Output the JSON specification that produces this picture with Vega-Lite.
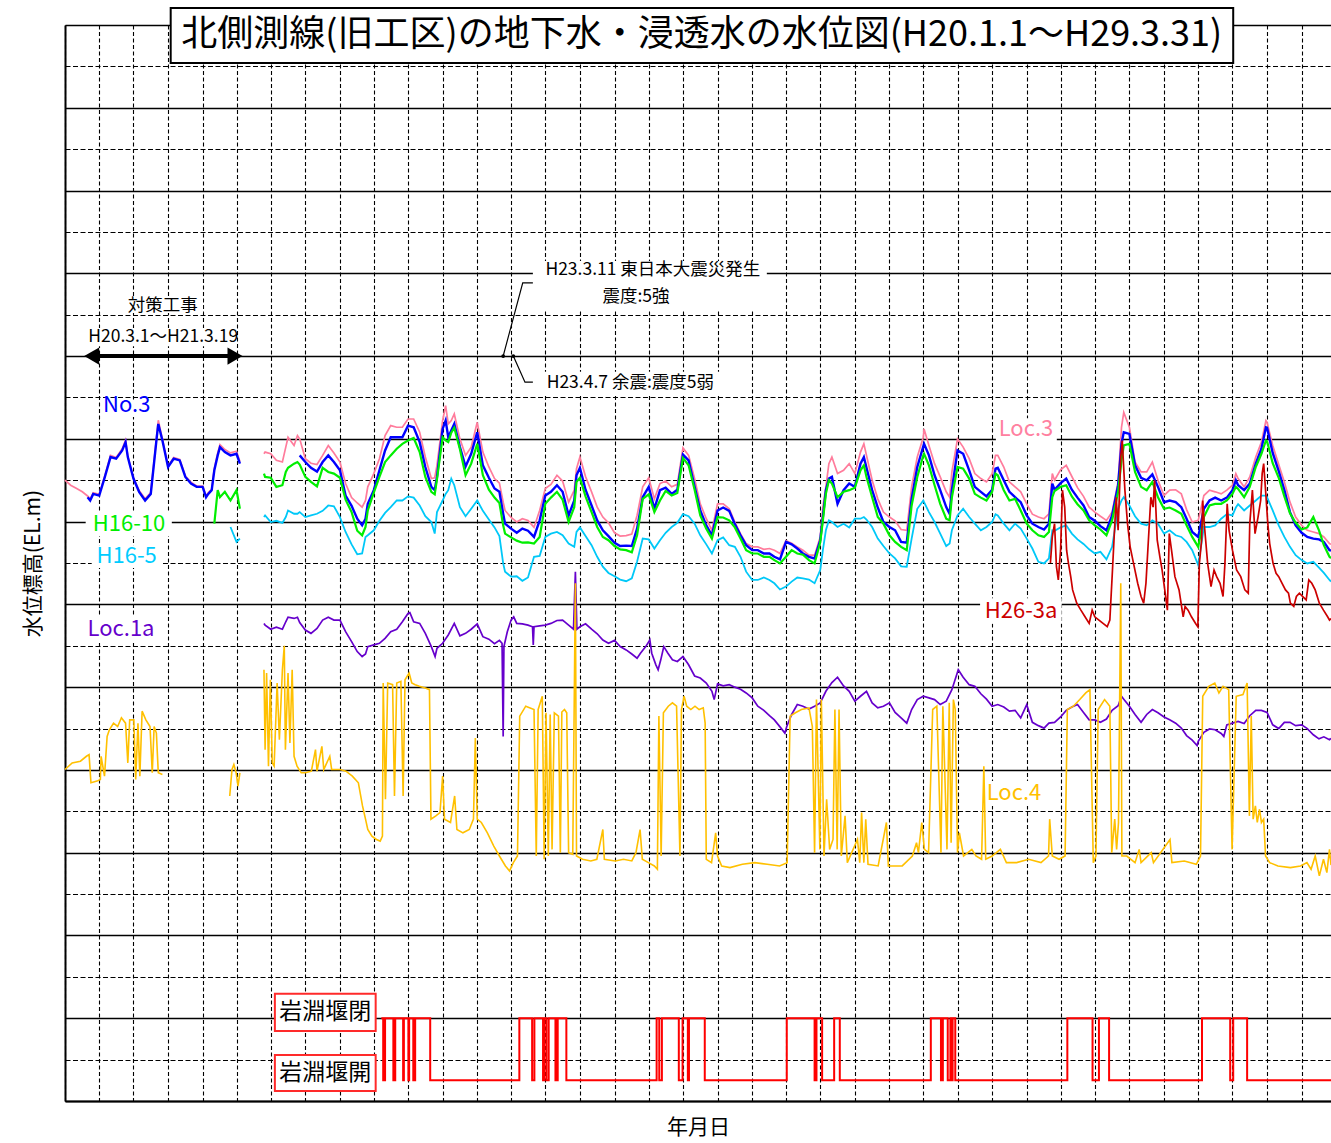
{
"$schema": "https://vega.github.io/schema/vega-lite/v6.json",
"width": 1266, "height": 1076,
"autosize": {"type": "none"},
"padding": {"left": 65, "top": 25, "right": 0, "bottom": 42},
"background": "white",
"config": {"font": "Noto Sans CJK JP", "view": {"stroke": null}},
"datasets": {
"wide": [
{"d":"2008-01-01","L3":15.00},{"d":"2008-01-16","L3":14.88},{"d":"2008-02-01","L3":14.80},{"d":"2008-02-16","L3":14.72},
{"d":"2008-03-01","L3":14.62,"N3":14.59},{"d":"2008-03-08","L3":14.55,"N3":14.51},{"d":"2008-03-16","L3":14.70,"N3":14.67},
{"d":"2008-04-01","L3":14.66,"N3":14.63},{"d":"2008-04-16","L3":15.11,"N3":15.08},{"d":"2008-05-01","L3":15.60,"N3":15.56},
{"d":"2008-05-16","L3":15.55,"N3":15.52},{"d":"2008-06-01","L3":15.76,"N3":15.72},{"d":"2008-06-10","L3":15.97,"N3":15.92},
{"d":"2008-06-16","L3":15.58,"N3":15.56},{"d":"2008-07-01","L3":15.06,"N3":15.04},{"d":"2008-07-16","L3":14.75,"N3":14.72},
{"d":"2008-08-01","L3":14.55,"N3":14.51},{"d":"2008-08-16","L3":14.70,"N3":14.67},{"d":"2008-09-01","L3":16.08,"N3":16.04},
{"d":"2008-09-05","L3":16.45,"N3":16.36},{"d":"2008-09-16","L3":15.99,"N3":15.96},{"d":"2008-10-01","L3":15.34,"N3":15.32},
{"d":"2008-10-16","L3":15.55,"N3":15.52},{"d":"2008-11-01","L3":15.50,"N3":15.48},{"d":"2008-11-16","L3":15.10,"N3":15.08},
{"d":"2008-12-01","L3":14.95,"N3":14.92},{"d":"2008-12-16","L3":14.86,"N3":14.84},{"d":"2009-01-01","L3":14.86,"N3":14.84},
{"d":"2009-01-10","L3":14.62,"N3":14.59},{"d":"2009-01-16","L3":14.70,"N3":14.67},{"d":"2009-01-25","L3":14.78,"N3":14.76},
{"d":"2009-02-01","L3":15.28,"N3":15.24,"H10":13.95},{"d":"2009-02-10","L3":15.66,"N3":15.60,"H10":14.76},
{"d":"2009-02-16","L3":15.86,"N3":15.80,"H10":14.59},{"d":"2009-03-01","L3":15.74,"N3":15.68,"H10":14.72},
{"d":"2009-03-16","L3":15.66,"N3":15.60,"H10":14.51,"H5":13.87},{"d":"2009-04-01","L3":15.70,"N3":15.64,"H10":14.76,"H5":13.51},
{"d":"2009-04-10","L3":15.45,"N3":15.40,"H10":14.31,"H5":13.59},
{"d":"2009-05-01"},
{"d":"2009-06-13","L3":15.64,"H10":15.16,"H5":14.11},{"d":"2009-06-16","L3":15.68,"H10":15.08,"H5":14.15},
{"d":"2009-07-01","L3":15.64,"H10":15.06,"H5":13.99},{"d":"2009-07-16","L3":15.48,"H10":14.84,"H5":14.02},
{"d":"2009-08-01","L3":15.44,"H10":14.88,"H5":13.97},{"d":"2009-08-10","L3":15.80,"H10":15.20,"H5":14.11},
{"d":"2009-08-16","L3":16.04,"H10":15.30,"H5":14.27},{"d":"2009-09-01","L3":15.84,"H10":15.40,"H5":14.19},
{"d":"2009-09-10","L3":16.08,"H10":15.44,"H5":14.19},{"d":"2009-09-16","L3":16.00,"N3":15.60,"H10":15.38,"H5":14.23},
{"d":"2009-10-01","L3":15.52,"N3":15.44,"H10":15.08,"H5":14.11},{"d":"2009-10-16","L3":15.41,"N3":15.30,"H10":14.96,"H5":14.15},
{"d":"2009-11-01","L3":15.38,"N3":15.21,"H10":14.85,"H5":14.19},{"d":"2009-11-16","L3":15.60,"N3":15.44,"H10":15.30,"H5":14.26},
{"d":"2009-12-01","L3":15.84,"N3":15.60,"H10":15.20,"H5":14.39},{"d":"2009-12-16","L3":15.66,"N3":15.44,"H10":15.16,"H5":14.37},
{"d":"2010-01-01","L3":15.44,"N3":15.24,"H10":15.06,"H5":14.11},{"d":"2010-01-16","L3":14.92,"N3":14.63,"H10":14.53,"H5":13.75},
{"d":"2010-02-01","L3":14.58,"N3":14.38,"H10":14.23,"H5":13.45},{"d":"2010-02-16","L3":14.45,"N3":14.07,"H10":13.78,"H5":13.21},
{"d":"2010-03-01","L3":14.35,"N3":13.91,"H10":13.67,"H5":13.23},{"d":"2010-03-10","L3":14.51,"N3":14.07,"H10":13.87,"H5":13.63},
{"d":"2010-03-16","L3":14.84,"N3":14.43,"H10":14.27,"H5":13.67},{"d":"2010-04-01","L3":15.16,"N3":14.76,"H10":14.70,"H5":13.79},
{"d":"2010-04-16","L3":15.52,"N3":15.24,"H10":15.08,"H5":14.02},{"d":"2010-05-01","L3":16.08,"N3":15.72,"H10":15.44,"H5":14.21},
{"d":"2010-05-16","L3":16.32,"N3":16.04,"H10":15.60,"H5":14.35},{"d":"2010-06-01","L3":16.28,"N3":16.04,"H10":15.76,"H5":14.51},
{"d":"2010-06-16","L3":16.28,"N3":16.04,"H10":15.88,"H5":14.51},{"d":"2010-07-01","L3":16.48,"N3":16.32,"H10":15.96,"H5":14.61},
{"d":"2010-07-16","L3":16.48,"N3":16.28,"H10":16.02,"H5":14.58},{"d":"2010-08-01","L3":16.16,"N3":15.92,"H10":15.68,"H5":14.39},
{"d":"2010-08-16","L3":15.56,"N3":15.32,"H10":15.08,"H5":14.13},{"d":"2010-09-01","L3":15.04,"N3":14.84,"H10":14.72,"H5":13.99},
{"d":"2010-09-10","L3":15.06,"N3":14.76,"H10":14.66,"H5":13.71},{"d":"2010-09-16","L3":15.36,"N3":15.08,"H10":15.02,"H5":14.23},
{"d":"2010-10-01","L3":16.44,"N3":16.24,"H10":16.04,"H5":14.51},{"d":"2010-10-09","L3":16.80,"N3":16.44,"H10":15.96,"H5":14.67},
{"d":"2010-10-16","L3":16.36,"N3":16.04,"H10":15.92,"H5":14.76},{"d":"2010-10-24","L3":16.44,"N3":16.20,"H10":16.15,"H5":15.04},
{"d":"2010-11-01","L3":16.60,"N3":16.36,"H10":16.27,"H5":14.88},{"d":"2010-11-16","L3":16.00,"N3":15.80,"H10":15.75,"H5":14.35},
{"d":"2010-12-01","L3":15.60,"N3":15.33,"H10":15.12,"H5":14.13},{"d":"2010-12-16","L3":15.80,"N3":15.64,"H10":15.40,"H5":14.31},
{"d":"2011-01-01","L3":16.40,"N3":16.16,"H10":15.88,"H5":14.51},{"d":"2011-01-16","L3":15.68,"N3":15.36,"H10":15.12,"H5":14.26},
{"d":"2011-02-01","L3":15.32,"N3":15.06,"H10":14.77,"H5":14.05},{"d":"2011-02-16","L3":15.04,"N3":14.80,"H10":14.58,"H5":13.86},
{"d":"2011-03-01","L3":14.93,"N3":14.72,"H10":14.45,"H5":13.65},{"d":"2011-03-11","L3":14.47,"N3":14.19,"H10":13.91,"H5":12.99},
{"d":"2011-03-16","L3":14.27,"N3":13.95,"H10":13.71,"H5":12.79},{"d":"2011-04-01","L3":14.10,"N3":13.83,"H10":13.62,"H5":12.67},
{"d":"2011-04-16","L3":13.99,"N3":13.73,"H10":13.54,"H5":12.68},{"d":"2011-05-01","L3":14.07,"N3":13.83,"H10":13.49,"H5":12.57},
{"d":"2011-05-16","L3":14.03,"N3":13.78,"H10":13.50,"H5":12.65},{"d":"2011-06-01","L3":13.86,"N3":13.63,"H10":13.47,"H5":13.15},
{"d":"2011-06-16","L3":14.27,"N3":14.03,"H10":13.63,"H5":13.17},{"d":"2011-07-01","L3":14.80,"N3":14.63,"H10":14.43,"H5":13.63},
{"d":"2011-07-16","L3":14.90,"N3":14.72,"H10":14.58,"H5":13.71},{"d":"2011-08-01","L3":15.12,"N3":14.88,"H10":14.72,"H5":13.75},
{"d":"2011-08-16","L3":14.98,"N3":14.72,"H10":14.53,"H5":13.67},{"d":"2011-09-01","L3":14.47,"N3":14.15,"H10":13.99,"H5":13.47},
{"d":"2011-09-16","L3":14.76,"N3":14.51,"H10":14.35,"H5":13.39},{"d":"2011-09-22","L3":15.28,"N3":15.12,"H10":14.96,"H5":13.75},
{"d":"2011-10-01","L3":15.56,"N3":15.30,"H10":15.06,"H5":13.86},{"d":"2011-10-16","L3":15.09,"N3":14.77,"H10":14.61,"H5":13.65},
{"d":"2011-11-01","L3":14.72,"N3":14.39,"H10":14.23,"H5":13.43},{"d":"2011-11-16","L3":14.35,"N3":14.03,"H10":13.87,"H5":13.15},
{"d":"2011-12-01","L3":14.11,"N3":13.79,"H10":13.63,"H5":12.91},{"d":"2011-12-16","L3":13.97,"N3":13.65,"H10":13.55,"H5":12.76},
{"d":"2012-01-01","L3":13.73,"N3":13.49,"H10":13.41,"H5":12.68},{"d":"2012-01-16","L3":13.65,"N3":13.41,"H10":13.33,"H5":12.60},
{"d":"2012-02-01","L3":13.66,"N3":13.42,"H10":13.31,"H5":12.56},{"d":"2012-02-16","L3":13.70,"N3":13.41,"H10":13.26,"H5":12.63},
{"d":"2012-03-01","L3":14.15,"N3":13.83,"H10":13.67,"H5":13.03},{"d":"2012-03-16","L3":14.84,"N3":14.59,"H10":14.55,"H5":13.59},
{"d":"2012-04-01","L3":15.06,"N3":14.84,"H10":14.66,"H5":13.57},{"d":"2012-04-16","L3":14.55,"N3":14.31,"H10":14.23,"H5":13.35},
{"d":"2012-05-01","L3":14.92,"N3":14.76,"H10":14.51,"H5":13.55},{"d":"2012-05-16","L3":14.98,"N3":14.82,"H10":14.74,"H5":13.73},
{"d":"2012-06-01","L3":14.84,"N3":14.67,"H10":14.63,"H5":13.87},{"d":"2012-06-16","L3":14.90,"N3":14.77,"H10":14.69,"H5":13.97},
{"d":"2012-07-01","L3":15.78,"N3":15.62,"H10":15.54,"H5":14.18},{"d":"2012-07-16","L3":15.60,"N3":15.48,"H10":15.36,"H5":14.13},
{"d":"2012-08-01","L3":15.04,"N3":14.85,"H10":14.77,"H5":13.95},{"d":"2012-08-16","L3":14.43,"N3":14.27,"H10":14.15,"H5":13.67},
{"d":"2012-09-01","L3":14.07,"N3":13.91,"H10":13.83,"H5":13.45},{"d":"2012-09-16","L3":13.79,"N3":13.67,"H10":13.59,"H5":13.23},
{"d":"2012-10-01","L3":14.43,"N3":14.27,"H10":14.11,"H5":13.55},{"d":"2012-10-16","L3":14.43,"N3":14.34,"H10":14.10,"H5":13.62},
{"d":"2012-11-01","L3":14.31,"N3":14.26,"H10":14.03,"H5":13.43},{"d":"2012-11-16","L3":13.99,"N3":13.94,"H10":13.86,"H5":13.39},
{"d":"2012-12-01","L3":13.71,"N3":13.67,"H10":13.59,"H5":13.15},{"d":"2012-12-16","L3":13.47,"N3":13.43,"H10":13.31,"H5":12.79},
{"d":"2013-01-01","L3":13.39,"N3":13.31,"H10":13.23,"H5":12.59},{"d":"2013-01-16","L3":13.39,"N3":13.31,"H10":13.23,"H5":12.59},
{"d":"2013-02-01","L3":13.33,"N3":13.23,"H10":13.15,"H5":12.65},{"d":"2013-02-16","L3":13.35,"N3":13.23,"H10":13.15,"H5":12.59},
{"d":"2013-03-01","L3":13.31,"N3":13.15,"H10":13.07,"H5":12.51},{"d":"2013-03-16","L3":13.23,"N3":13.09,"H10":12.99,"H5":12.36},
{"d":"2013-04-01","L3":13.54,"N3":13.51,"H10":13.15,"H5":12.43},{"d":"2013-04-16","L3":13.48,"N3":13.45,"H10":13.31,"H5":12.55},
{"d":"2013-05-01","L3":13.39,"N3":13.35,"H10":13.23,"H5":12.65},{"d":"2013-05-16","L3":13.31,"N3":13.23,"H10":13.20,"H5":12.63},
{"d":"2013-06-01","L3":13.19,"N3":13.15,"H10":13.07,"H5":12.60},{"d":"2013-06-16","L3":13.19,"N3":13.11,"H10":12.99,"H5":12.51},
{"d":"2013-07-01","L3":13.63,"N3":13.55,"H10":13.50,"H5":12.83},{"d":"2013-07-08","L3":14.35,"N3":14.11,"H10":14.03,"H5":13.31},
{"d":"2013-07-16","L3":14.84,"N3":14.76,"H10":14.67,"H5":13.79},{"d":"2013-07-24","L3":15.40,"N3":15.04,"H10":15.00,"H5":14.03},
{"d":"2013-08-01","L3":15.56,"N3":15.08,"H10":14.92,"H5":13.99},{"d":"2013-08-16","L3":15.16,"N3":14.43,"H10":14.59,"H5":13.87},
{"d":"2013-09-01","L3":15.24,"N3":14.76,"H10":14.72,"H5":13.95},{"d":"2013-09-16","L3":15.40,"N3":14.92,"H10":14.76,"H5":13.86},
{"d":"2013-10-01","L3":15.16,"N3":14.84,"H10":14.82,"H5":14.07},{"d":"2013-10-16","L3":15.68,"N3":15.40,"H10":15.24,"H5":14.07},
{"d":"2013-10-25","L3":15.88,"N3":15.56,"H10":15.36,"H5":14.11},{"d":"2013-11-01","L3":15.60,"N3":15.30,"H10":15.08,"H5":14.05},
{"d":"2013-11-16","L3":15.00,"N3":14.76,"H10":14.59,"H5":13.87},{"d":"2013-12-01","L3":14.55,"N3":14.34,"H10":14.11,"H5":13.59},
{"d":"2013-12-16","L3":14.23,"N3":13.99,"H10":13.95,"H5":13.41},{"d":"2014-01-01","L3":14.11,"N3":13.87,"H10":13.67,"H5":13.23},
{"d":"2014-01-16","L3":14.02,"N3":13.79,"H10":13.51,"H5":13.11},{"d":"2014-02-01","L3":13.81,"N3":13.51,"H10":13.39,"H5":12.92},
{"d":"2014-02-16","L3":13.79,"N3":13.49,"H10":13.31,"H5":12.91},{"d":"2014-03-01","L3":14.84,"N3":14.55,"H10":14.39,"H5":13.59},
{"d":"2014-03-16","L3":15.56,"N3":15.32,"H10":15.08,"H5":14.31},{"d":"2014-04-01","L3":16.04,"N3":15.82,"H10":15.60,"H5":14.51},
{"d":"2014-04-03","L3":16.24,"N3":15.88,"H10":15.64,"H5":14.47},{"d":"2014-04-16","L3":15.84,"N3":15.60,"H10":15.36,"H5":14.23},
{"d":"2014-05-01","L3":15.40,"N3":15.12,"H10":14.88,"H5":13.99},{"d":"2014-05-16","L3":15.08,"N3":14.76,"H10":14.43,"H5":13.71},
{"d":"2014-06-01","L3":14.72,"N3":14.35,"H10":14.07,"H5":13.41},{"d":"2014-06-10","L3":14.59,"N3":14.19,"H10":14.03,"H5":13.47},
{"d":"2014-06-16","L3":15.20,"N3":14.76,"H10":14.59,"H5":13.79},{"d":"2014-07-01","L3":16.00,"N3":15.72,"H10":15.32,"H5":14.15},
{"d":"2014-07-16","L3":15.80,"N3":15.64,"H10":15.28,"H5":14.31},{"d":"2014-08-01","L3":15.52,"N3":15.24,"H10":15.04,"H5":14.11},
{"d":"2014-08-16","L3":15.16,"N3":14.84,"H10":14.67,"H5":13.95},{"d":"2014-09-01","L3":15.04,"N3":14.72,"H10":14.58,"H5":13.79},
{"d":"2014-09-16","L3":14.96,"N3":14.61,"H10":14.51,"H5":13.87},{"d":"2014-10-01","L3":15.16,"N3":14.77,"H10":14.72,"H5":13.99},
{"d":"2014-10-10","L3":15.60,"N3":15.28,"H10":15.16,"H5":14.18},{"d":"2014-10-16","L3":15.60,"N3":15.30,"H10":15.12,"H5":14.15},
{"d":"2014-11-01","L3":15.32,"N3":15.00,"H10":14.76,"H5":13.95},{"d":"2014-11-16","L3":14.96,"N3":14.72,"H10":14.51,"H5":13.79},
{"d":"2014-12-01","L3":14.84,"N3":14.59,"H10":14.55,"H5":13.95},{"d":"2014-12-16","L3":14.72,"N3":14.47,"H10":14.27,"H5":13.83},
{"d":"2015-01-01","L3":14.43,"N3":14.15,"H10":13.95,"H5":13.59},{"d":"2015-01-16","L3":14.18,"N3":13.95,"H10":13.79,"H5":13.35},
{"d":"2015-02-01","L3":14.11,"N3":13.87,"H10":13.67,"H5":13.03},{"d":"2015-02-16","L3":14.07,"N3":13.81,"H10":13.63,"H5":12.99},
{"d":"2015-03-01","L3":14.19,"N3":13.95,"H10":13.75,"H5":13.11},{"d":"2015-03-10","L3":15.16,"N3":14.92,"H10":14.59,"H5":13.79},
{"d":"2015-03-16","L3":15.00,"N3":14.77,"H10":14.74,"H5":13.78},{"d":"2015-04-01","L3":15.25,"N3":14.93,"H10":14.84,"H5":13.86},
{"d":"2015-04-16","L3":15.36,"N3":15.04,"H10":14.88,"H5":13.91},{"d":"2015-05-01","L3":15.09,"N3":14.77,"H10":14.61,"H5":13.71},
{"d":"2015-05-16","L3":14.82,"N3":14.58,"H10":14.42,"H5":13.57},{"d":"2015-06-01","L3":14.61,"N3":14.39,"H10":14.27,"H5":13.46},
{"d":"2015-06-16","L3":14.35,"N3":14.11,"H10":14.03,"H5":13.33},{"d":"2015-07-01","L3":14.23,"N3":14.02,"H10":13.91,"H5":13.23},
{"d":"2015-07-16","L3":14.13,"N3":13.89,"H10":13.81,"H5":13.27},{"d":"2015-08-01","L3":14.03,"N3":13.79,"H10":13.67,"H5":13.09},
{"d":"2015-08-16","L3":14.23,"N3":14.15,"H10":14.03,"H5":13.39},{"d":"2015-09-01","L3":14.96,"N3":14.88,"H10":14.72,"H5":14.31},
{"d":"2015-09-10","L3":16.28,"N3":15.88,"H10":15.48,"H5":14.51},{"d":"2015-09-16","L3":16.64,"N3":16.16,"H10":15.84,"H5":14.59},
{"d":"2015-10-01","L3":16.28,"N3":16.12,"H10":15.88,"H5":14.39},{"d":"2015-10-16","L3":15.44,"N3":15.36,"H10":15.20,"H5":14.13},
{"d":"2015-11-01","L3":15.20,"N3":15.06,"H10":14.84,"H5":13.95},{"d":"2015-11-16","L3":15.20,"N3":15.00,"H10":14.76,"H5":13.91},
{"d":"2015-12-01","L3":15.44,"N3":15.14,"H10":14.96,"H5":14.03},{"d":"2015-12-16","L3":15.00,"N3":14.84,"H10":14.59,"H5":13.95},
{"d":"2016-01-01","L3":14.63,"N3":14.47,"H10":14.31,"H5":13.71},{"d":"2016-01-16","L3":14.76,"N3":14.51,"H10":14.34,"H5":13.79},
{"d":"2016-02-01","L3":14.77,"N3":14.47,"H10":14.27,"H5":13.67},{"d":"2016-02-16","L3":14.67,"N3":14.35,"H10":14.19,"H5":13.63},
{"d":"2016-03-01","L3":14.29,"N3":14.07,"H10":13.91,"H5":13.51},{"d":"2016-03-16","L3":13.99,"N3":13.75,"H10":13.63,"H5":13.31},
{"d":"2016-04-01","L3":14.03,"N3":13.63,"H10":13.39,"H5":12.95},{"d":"2016-04-16","L3":14.63,"N3":14.31,"H10":14.11,"H5":13.87},
{"d":"2016-05-01","L3":14.76,"N3":14.51,"H10":14.39,"H5":13.87},{"d":"2016-05-16","L3":14.72,"N3":14.58,"H10":14.43,"H5":13.91},
{"d":"2016-06-01","L3":14.67,"N3":14.51,"H10":14.43,"H5":14.07},{"d":"2016-06-16","L3":14.76,"N3":14.58,"H10":14.51,"H5":14.18},
{"d":"2016-07-01","L3":14.88,"N3":14.76,"H10":14.67,"H5":14.15},{"d":"2016-07-10","L3":15.16,"N3":15.00,"H10":14.84,"H5":14.34},
{"d":"2016-07-16","L3":15.04,"N3":14.88,"H10":14.79,"H5":14.42},{"d":"2016-08-01","L3":14.84,"N3":14.76,"H10":14.59,"H5":14.27},
{"d":"2016-08-16","L3":15.08,"N3":14.92,"H10":14.84,"H5":14.39},{"d":"2016-09-01","L3":15.56,"N3":15.40,"H10":15.32,"H5":14.51},
{"d":"2016-09-16","L3":15.92,"N3":15.76,"H10":15.64,"H5":14.63},{"d":"2016-09-28","L3":16.44,"N3":16.28,"H10":15.96,"H5":14.63},
{"d":"2016-10-01","L3":16.40,"N3":16.27,"H10":15.94,"H5":14.59},{"d":"2016-10-16","L3":15.84,"N3":15.66,"H10":15.41,"H5":14.27},
{"d":"2016-11-01","L3":15.38,"N3":15.22,"H10":15.06,"H5":13.91},{"d":"2016-11-16","L3":14.96,"N3":14.76,"H10":14.61,"H5":13.63},
{"d":"2016-12-01","L3":14.47,"N3":14.23,"H10":14.20,"H5":13.39},{"d":"2016-12-16","L3":14.11,"N3":13.91,"H10":13.97,"H5":13.19},
{"d":"2017-01-01","L3":13.91,"N3":13.73,"H10":13.81,"H5":13.07},{"d":"2017-01-16","L3":13.79,"N3":13.63,"H10":13.86,"H5":12.99},
{"d":"2017-02-01","L3":13.75,"N3":13.59,"H10":14.11,"H5":13.03},{"d":"2017-02-16","L3":13.71,"N3":13.57,"H10":13.79,"H5":12.89},
{"d":"2017-03-01","L3":13.63,"N3":13.51,"H10":13.43,"H5":12.76},{"d":"2017-03-16","L3":13.47,"N3":13.31,"H10":13.15,"H5":12.59},
{"d":"2017-03-20","L3":13.45,"N3":13.30,"H10":13.12,"H5":12.55}
],
"purple": [
{"d":"2009-06-13","v":11.54},{"d":"2009-06-16","v":11.50},{"d":"2009-07-01","v":11.40},{"d":"2009-07-16","v":11.45},{"d":"2009-08-01","v":11.40},
{"d":"2009-08-10","v":11.58},{"d":"2009-08-16","v":11.69},{"d":"2009-09-01","v":11.66},{"d":"2009-09-10","v":11.69},{"d":"2009-09-16","v":11.56},
{"d":"2009-10-01","v":11.38},{"d":"2009-10-16","v":11.30},{"d":"2009-11-01","v":11.42},{"d":"2009-11-16","v":11.62},{"d":"2009-12-01","v":11.69},
{"d":"2009-12-16","v":11.62},{"d":"2010-01-01","v":11.62},{"d":"2010-01-16","v":11.34},{"d":"2010-02-01","v":11.10},{"d":"2010-02-16","v":10.86},
{"d":"2010-03-01","v":10.74},{"d":"2010-03-10","v":10.80},{"d":"2010-03-16","v":10.98},{"d":"2010-04-01","v":11.02},{"d":"2010-04-16","v":11.06},
{"d":"2010-05-01","v":11.18},{"d":"2010-05-16","v":11.34},{"d":"2010-06-01","v":11.40},{"d":"2010-06-16","v":11.58},{"d":"2010-07-01","v":11.78},
{"d":"2010-07-06","v":11.80},{"d":"2010-07-16","v":11.58},{"d":"2010-08-01","v":11.54},{"d":"2010-08-16","v":11.30},{"d":"2010-09-01","v":10.98},
{"d":"2010-09-11","v":10.74},{"d":"2010-09-16","v":10.94},{"d":"2010-10-01","v":11.06},{"d":"2010-10-16","v":11.26},{"d":"2010-11-01","v":11.54},
{"d":"2010-11-16","v":11.24},{"d":"2010-12-01","v":11.30},{"d":"2010-12-16","v":11.40},{"d":"2011-01-01","v":11.53},{"d":"2011-01-16","v":11.22},
{"d":"2011-02-01","v":11.16},{"d":"2011-02-16","v":11.05},{"d":"2011-03-01","v":11.13},{"d":"2011-03-08","v":11.06},{"d":"2011-03-11","v":8.81},
{"d":"2011-03-13","v":10.98},{"d":"2011-03-22","v":11.34},{"d":"2011-04-01","v":11.62},{"d":"2011-04-08","v":11.70},{"d":"2011-04-16","v":11.54},
{"d":"2011-05-01","v":11.53},{"d":"2011-05-16","v":11.50},{"d":"2011-05-28","v":11.46},{"d":"2011-05-30","v":11.02},{"d":"2011-06-01","v":11.46},
{"d":"2011-06-16","v":11.48},{"d":"2011-07-01","v":11.50},{"d":"2011-07-16","v":11.54},{"d":"2011-08-01","v":11.61},{"d":"2011-08-16","v":11.62},
{"d":"2011-09-01","v":11.50},{"d":"2011-09-14","v":11.40},{"d":"2011-09-19","v":12.79},{"d":"2011-09-23","v":11.40},{"d":"2011-10-01","v":11.46},
{"d":"2011-10-16","v":11.53},{"d":"2011-11-01","v":11.40},{"d":"2011-11-16","v":11.29},{"d":"2011-12-01","v":11.14},{"d":"2011-12-16","v":11.06},
{"d":"2012-01-01","v":11.13},{"d":"2012-01-16","v":10.98},{"d":"2012-02-01","v":10.90},{"d":"2012-02-16","v":10.80},{"d":"2012-03-01","v":10.70},
{"d":"2012-03-10","v":10.82},{"d":"2012-03-24","v":10.98},{"d":"2012-04-04","v":11.14},{"d":"2012-04-09","v":10.82},{"d":"2012-04-20","v":10.54},
{"d":"2012-04-26","v":10.42},{"d":"2012-05-03","v":10.66},{"d":"2012-05-11","v":10.98},{"d":"2012-05-22","v":10.82},{"d":"2012-06-03","v":10.66},
{"d":"2012-06-16","v":10.62},{"d":"2012-07-01","v":10.74},{"d":"2012-07-16","v":10.54},{"d":"2012-08-01","v":10.27},{"d":"2012-08-16","v":10.22},
{"d":"2012-09-01","v":10.10},{"d":"2012-09-16","v":9.90},{"d":"2012-09-22","v":9.70},{"d":"2012-10-01","v":10.08},{"d":"2012-10-16","v":10.03},
{"d":"2012-11-01","v":10.06},{"d":"2012-11-16","v":10.00},{"d":"2012-12-01","v":9.95},{"d":"2012-12-16","v":9.86},{"d":"2013-01-01","v":9.74},
{"d":"2013-01-16","v":9.54},{"d":"2013-02-01","v":9.44},{"d":"2013-02-16","v":9.31},{"d":"2013-03-01","v":9.21},{"d":"2013-03-16","v":9.04},
{"d":"2013-03-29","v":8.89},{"d":"2013-04-03","v":9.05},{"d":"2013-04-16","v":9.34},{"d":"2013-05-01","v":9.58},{"d":"2013-05-16","v":9.54},
{"d":"2013-06-01","v":9.47},{"d":"2013-06-16","v":9.54},{"d":"2013-07-01","v":9.62},{"d":"2013-07-16","v":9.90},{"d":"2013-08-01","v":10.11},
{"d":"2013-08-16","v":10.24},{"d":"2013-09-01","v":10.03},{"d":"2013-09-16","v":9.90},{"d":"2013-10-01","v":9.66},{"d":"2013-10-16","v":9.78},
{"d":"2013-11-01","v":9.90},{"d":"2013-11-16","v":9.62},{"d":"2013-12-01","v":9.50},{"d":"2013-12-16","v":9.54},{"d":"2014-01-01","v":9.62},
{"d":"2014-01-16","v":9.39},{"d":"2014-02-01","v":9.26},{"d":"2014-02-16","v":9.13},{"d":"2014-03-01","v":9.46},{"d":"2014-03-16","v":9.70},
{"d":"2014-04-01","v":9.78},{"d":"2014-04-16","v":9.74},{"d":"2014-05-01","v":9.70},{"d":"2014-05-16","v":9.58},{"d":"2014-06-01","v":9.66},
{"d":"2014-06-16","v":9.94},{"d":"2014-07-03","v":10.42},{"d":"2014-07-16","v":10.24},{"d":"2014-08-01","v":10.06},{"d":"2014-08-16","v":10.02},
{"d":"2014-09-01","v":9.84},{"d":"2014-09-16","v":9.71},{"d":"2014-10-01","v":9.54},{"d":"2014-10-16","v":9.58},{"d":"2014-11-01","v":9.52},
{"d":"2014-11-16","v":9.42},{"d":"2014-12-01","v":9.44},{"d":"2014-12-16","v":9.26},{"d":"2015-01-01","v":9.58},{"d":"2015-01-16","v":9.15},
{"d":"2015-02-01","v":9.07},{"d":"2015-02-16","v":9.01},{"d":"2015-03-01","v":9.13},{"d":"2015-03-16","v":9.15},{"d":"2015-04-01","v":9.28},
{"d":"2015-04-16","v":9.44},{"d":"2015-05-01","v":9.52},{"d":"2015-05-16","v":9.58},{"d":"2015-06-01","v":9.39},{"d":"2015-06-16","v":9.21},
{"d":"2015-07-01","v":9.21},{"d":"2015-07-16","v":9.15},{"d":"2015-08-01","v":9.23},{"d":"2015-08-16","v":9.44},{"d":"2015-09-01","v":9.55},
{"d":"2015-09-10","v":9.78},{"d":"2015-09-16","v":9.71},{"d":"2015-10-01","v":9.54},{"d":"2015-10-16","v":9.34},{"d":"2015-11-01","v":9.15},
{"d":"2015-11-16","v":9.34},{"d":"2015-12-01","v":9.46},{"d":"2015-12-16","v":9.38},{"d":"2016-01-01","v":9.28},{"d":"2016-01-16","v":9.21},
{"d":"2016-02-01","v":9.13},{"d":"2016-02-16","v":9.01},{"d":"2016-03-01","v":8.83},{"d":"2016-03-16","v":8.72},{"d":"2016-03-29","v":8.59},
{"d":"2016-04-01","v":8.69},{"d":"2016-04-16","v":8.91},{"d":"2016-05-01","v":8.99},{"d":"2016-05-16","v":8.97},{"d":"2016-06-01","v":8.88},
{"d":"2016-06-08","v":8.81},{"d":"2016-06-16","v":9.09},{"d":"2016-07-01","v":9.13},{"d":"2016-07-16","v":9.17},{"d":"2016-08-01","v":9.12},
{"d":"2016-08-16","v":9.31},{"d":"2016-09-01","v":9.44},{"d":"2016-09-16","v":9.44},{"d":"2016-10-01","v":9.39},{"d":"2016-10-16","v":9.09},
{"d":"2016-11-01","v":9.00},{"d":"2016-11-16","v":9.15},{"d":"2016-12-01","v":9.15},{"d":"2016-12-16","v":9.07},{"d":"2017-01-01","v":9.09},
{"d":"2017-01-16","v":9.00},{"d":"2017-02-01","v":8.85},{"d":"2017-02-16","v":8.75},{"d":"2017-03-01","v":8.80},{"d":"2017-03-16","v":8.73},
{"d":"2017-03-20","v":8.76}
],
"yellow": [
{"g":1,"d":"2008-01-01","v":8.01},{"g":1,"d":"2008-01-20","v":8.17},{"g":1,"d":"2008-02-11","v":8.21},{"g":1,"d":"2008-02-27","v":8.33},
{"g":1,"d":"2008-03-05","v":8.37},{"g":1,"d":"2008-03-10","v":7.69},{"g":1,"d":"2008-03-26","v":7.73},{"g":1,"d":"2008-04-04","v":7.77},
{"g":1,"d":"2008-04-06","v":8.33},{"g":1,"d":"2008-04-15","v":7.85},{"g":1,"d":"2008-04-22","v":8.81},{"g":1,"d":"2008-04-28","v":8.97},
{"g":1,"d":"2008-05-09","v":9.13},{"g":1,"d":"2008-05-20","v":9.05},{"g":1,"d":"2008-05-30","v":9.26},{"g":1,"d":"2008-06-10","v":9.13},
{"g":1,"d":"2008-06-16","v":8.17},{"g":1,"d":"2008-06-21","v":9.21},{"g":1,"d":"2008-07-02","v":9.21},{"g":1,"d":"2008-07-07","v":7.77},
{"g":1,"d":"2008-07-13","v":9.13},{"g":1,"d":"2008-07-18","v":7.85},{"g":1,"d":"2008-07-24","v":9.42},{"g":1,"d":"2008-08-03","v":9.21},
{"g":1,"d":"2008-08-14","v":9.05},{"g":1,"d":"2008-08-20","v":7.93},{"g":1,"d":"2008-08-25","v":9.05},{"g":1,"d":"2008-08-31","v":8.89},
{"g":1,"d":"2008-09-05","v":7.93},{"g":1,"d":"2008-09-16","v":7.89},
{"g":2,"d":"2009-03-14","v":7.37},{"g":2,"d":"2009-03-20","v":8.01},{"g":2,"d":"2009-03-25","v":8.13},{"g":2,"d":"2009-03-31","v":7.93},
{"g":2,"d":"2009-04-05","v":7.61},{"g":2,"d":"2009-04-10","v":7.93},
{"g":3,"d":"2009-06-13","v":10.42},{"g":3,"d":"2009-06-16","v":8.49},{"g":3,"d":"2009-06-20","v":10.34},{"g":3,"d":"2009-06-25","v":8.09},
{"g":3,"d":"2009-06-30","v":10.18},{"g":3,"d":"2009-07-05","v":8.17},{"g":3,"d":"2009-07-10","v":8.09},{"g":3,"d":"2009-07-18","v":10.10},
{"g":3,"d":"2009-07-24","v":8.73},{"g":3,"d":"2009-08-01","v":10.42},{"g":3,"d":"2009-08-06","v":11.00},{"g":3,"d":"2009-08-09","v":8.49},
{"g":3,"d":"2009-08-16","v":10.34},{"g":3,"d":"2009-08-21","v":8.65},{"g":3,"d":"2009-08-27","v":10.42},{"g":3,"d":"2009-09-01","v":8.33},
{"g":3,"d":"2009-09-09","v":8.09},{"g":3,"d":"2009-09-20","v":7.93},{"g":3,"d":"2009-10-01","v":7.93},{"g":3,"d":"2009-10-17","v":7.97},
{"g":3,"d":"2009-10-28","v":8.49},{"g":3,"d":"2009-11-01","v":7.97},{"g":3,"d":"2009-11-14","v":8.57},{"g":3,"d":"2009-11-19","v":8.01},
{"g":3,"d":"2009-12-05","v":8.33},{"g":3,"d":"2009-12-10","v":8.01},{"g":3,"d":"2010-01-01","v":8.01},{"g":3,"d":"2010-01-17","v":7.97},
{"g":3,"d":"2010-02-03","v":7.85},{"g":3,"d":"2010-02-19","v":7.69},{"g":3,"d":"2010-03-02","v":7.13},{"g":3,"d":"2010-03-10","v":6.81},
{"g":3,"d":"2010-03-16","v":6.56},{"g":3,"d":"2010-03-27","v":6.40},{"g":3,"d":"2010-04-08","v":6.32},{"g":3,"d":"2010-04-18","v":6.28},
{"g":3,"d":"2010-04-24","v":6.40},{"g":3,"d":"2010-04-26","v":10.10},{"g":3,"d":"2010-05-02","v":7.29},{"g":3,"d":"2010-05-08","v":10.10},
{"g":3,"d":"2010-05-21","v":10.06},{"g":3,"d":"2010-05-26","v":7.37},{"g":3,"d":"2010-06-01","v":10.10},{"g":3,"d":"2010-06-12","v":10.14},
{"g":3,"d":"2010-06-18","v":7.37},{"g":3,"d":"2010-06-23","v":10.18},{"g":3,"d":"2010-07-04","v":10.34},{"g":3,"d":"2010-07-11","v":10.10},
{"g":3,"d":"2010-07-20","v":10.06},{"g":3,"d":"2010-07-31","v":10.02},{"g":3,"d":"2010-08-16","v":9.98},{"g":3,"d":"2010-08-27","v":9.94},
{"g":3,"d":"2010-08-31","v":6.81},{"g":3,"d":"2010-09-13","v":6.89},{"g":3,"d":"2010-09-24","v":6.97},{"g":3,"d":"2010-10-01","v":7.85},
{"g":3,"d":"2010-10-06","v":6.81},{"g":3,"d":"2010-10-22","v":6.73},{"g":3,"d":"2010-11-02","v":7.37},{"g":3,"d":"2010-11-08","v":6.56},
{"g":3,"d":"2010-11-24","v":6.48},{"g":3,"d":"2010-12-11","v":6.56},{"g":3,"d":"2010-12-22","v":6.81},{"g":3,"d":"2010-12-27","v":8.77},
{"g":3,"d":"2011-01-01","v":6.81},{"g":3,"d":"2011-01-12","v":6.73},{"g":3,"d":"2011-01-28","v":6.48},{"g":3,"d":"2011-02-14","v":6.16},
{"g":3,"d":"2011-03-01","v":5.92},{"g":3,"d":"2011-03-17","v":5.68},{"g":3,"d":"2011-03-28","v":5.56},{"g":3,"d":"2011-04-07","v":5.76},
{"g":3,"d":"2011-04-18","v":5.92},{"g":3,"d":"2011-04-24","v":9.30},{"g":3,"d":"2011-05-10","v":9.54},{"g":3,"d":"2011-06-01","v":9.46},
{"g":3,"d":"2011-06-07","v":5.92},{"g":3,"d":"2011-06-12","v":9.46},{"g":3,"d":"2011-06-23","v":9.78},{"g":3,"d":"2011-06-28","v":5.84},
{"g":3,"d":"2011-07-03","v":9.38},{"g":3,"d":"2011-07-09","v":5.92},{"g":3,"d":"2011-07-14","v":9.34},{"g":3,"d":"2011-07-19","v":6.08},
{"g":3,"d":"2011-07-25","v":9.38},{"g":3,"d":"2011-08-05","v":9.30},{"g":3,"d":"2011-08-10","v":6.00},{"g":3,"d":"2011-08-14","v":9.40},
{"g":3,"d":"2011-08-21","v":9.46},{"g":3,"d":"2011-08-27","v":9.38},{"g":3,"d":"2011-09-01","v":6.00},{"g":3,"d":"2011-09-12","v":5.96},
{"g":3,"d":"2011-09-19","v":12.51},{"g":3,"d":"2011-09-22","v":5.92},{"g":3,"d":"2011-10-08","v":5.84},{"g":3,"d":"2011-10-30","v":5.80},
{"g":3,"d":"2011-11-15","v":5.84},{"g":3,"d":"2011-12-01","v":6.56},{"g":3,"d":"2011-12-05","v":5.84},{"g":3,"d":"2012-01-03","v":5.80},
{"g":3,"d":"2012-01-25","v":5.84},{"g":3,"d":"2012-02-16","v":5.80},{"g":3,"d":"2012-02-27","v":6.00},{"g":3,"d":"2012-03-09","v":6.56},
{"g":3,"d":"2012-03-15","v":5.84},{"g":3,"d":"2012-03-31","v":5.76},{"g":3,"d":"2012-04-16","v":5.68},{"g":3,"d":"2012-04-24","v":5.60},
{"g":3,"d":"2012-04-28","v":9.30},{"g":3,"d":"2012-05-04","v":5.92},{"g":3,"d":"2012-05-10","v":9.38},{"g":3,"d":"2012-05-23","v":9.54},
{"g":3,"d":"2012-06-03","v":9.62},{"g":3,"d":"2012-06-14","v":9.54},{"g":3,"d":"2012-06-23","v":5.92},{"g":3,"d":"2012-06-27","v":9.46},
{"g":3,"d":"2012-07-04","v":9.78},{"g":3,"d":"2012-07-11","v":9.54},{"g":3,"d":"2012-07-22","v":9.46},{"g":3,"d":"2012-08-02","v":9.54},
{"g":3,"d":"2012-08-13","v":9.46},{"g":3,"d":"2012-08-24","v":9.50},{"g":3,"d":"2012-08-29","v":9.13},{"g":3,"d":"2012-09-01","v":5.84},
{"g":3,"d":"2012-09-15","v":5.76},{"g":3,"d":"2012-09-26","v":6.48},{"g":3,"d":"2012-10-01","v":5.92},{"g":3,"d":"2012-10-12","v":5.68},
{"g":3,"d":"2012-11-03","v":5.64},{"g":3,"d":"2012-12-06","v":5.72},{"g":3,"d":"2013-01-08","v":5.76},{"g":3,"d":"2013-02-10","v":5.72},
{"g":3,"d":"2013-03-15","v":5.68},{"g":3,"d":"2013-04-04","v":5.76},{"g":3,"d":"2013-04-12","v":9.30},{"g":3,"d":"2013-04-26","v":9.38},
{"g":3,"d":"2013-05-12","v":9.46},{"g":3,"d":"2013-06-01","v":9.50},{"g":3,"d":"2013-06-10","v":9.05},{"g":3,"d":"2013-06-16","v":6.00},
{"g":3,"d":"2013-06-21","v":9.70},{"g":3,"d":"2013-06-30","v":6.08},{"g":3,"d":"2013-07-04","v":9.70},{"g":3,"d":"2013-07-11","v":5.92},
{"g":3,"d":"2013-07-18","v":7.29},{"g":3,"d":"2013-07-26","v":6.08},{"g":3,"d":"2013-08-04","v":6.32},{"g":3,"d":"2013-08-09","v":9.46},
{"g":3,"d":"2013-08-15","v":6.08},{"g":3,"d":"2013-08-20","v":9.46},{"g":3,"d":"2013-08-26","v":5.92},{"g":3,"d":"2013-09-05","v":6.89},
{"g":3,"d":"2013-09-11","v":5.76},{"g":3,"d":"2013-10-08","v":6.32},{"g":3,"d":"2013-10-14","v":5.76},{"g":3,"d":"2013-10-19","v":6.97},
{"g":3,"d":"2013-10-25","v":5.76},{"g":3,"d":"2013-10-30","v":6.81},{"g":3,"d":"2013-11-05","v":5.72},{"g":3,"d":"2013-12-02","v":5.68},
{"g":3,"d":"2013-12-24","v":6.73},{"g":3,"d":"2013-12-29","v":5.68},{"g":3,"d":"2014-02-04","v":5.68},{"g":3,"d":"2014-03-03","v":5.92},
{"g":3,"d":"2014-03-14","v":6.24},{"g":3,"d":"2014-03-19","v":6.00},{"g":3,"d":"2014-03-28","v":6.73},{"g":3,"d":"2014-04-04","v":6.08},
{"g":3,"d":"2014-04-15","v":6.00},{"g":3,"d":"2014-04-26","v":9.46},{"g":3,"d":"2014-05-07","v":9.54},{"g":3,"d":"2014-05-18","v":6.00},
{"g":3,"d":"2014-05-23","v":9.54},{"g":3,"d":"2014-06-03","v":6.08},{"g":3,"d":"2014-06-09","v":9.62},{"g":3,"d":"2014-06-14","v":6.24},
{"g":3,"d":"2014-06-20","v":9.70},{"g":3,"d":"2014-06-25","v":9.46},{"g":3,"d":"2014-07-01","v":6.00},{"g":3,"d":"2014-07-06","v":6.48},
{"g":3,"d":"2014-07-17","v":5.92},{"g":3,"d":"2014-08-08","v":6.08},{"g":3,"d":"2014-08-19","v":5.92},{"g":3,"d":"2014-09-03","v":5.84},
{"g":3,"d":"2014-09-09","v":8.09},{"g":3,"d":"2014-09-14","v":5.84},{"g":3,"d":"2014-10-01","v":5.92},{"g":3,"d":"2014-10-23","v":6.08},
{"g":3,"d":"2014-11-08","v":5.76},{"g":3,"d":"2014-12-05","v":5.76},{"g":3,"d":"2015-01-06","v":5.84},{"g":3,"d":"2015-02-08","v":5.76},
{"g":3,"d":"2015-02-28","v":5.92},{"g":3,"d":"2015-03-03","v":6.81},{"g":3,"d":"2015-03-10","v":5.92},{"g":3,"d":"2015-03-28","v":5.84},
{"g":3,"d":"2015-04-13","v":5.92},{"g":3,"d":"2015-04-19","v":9.46},{"g":3,"d":"2015-05-05","v":9.54},{"g":3,"d":"2015-05-22","v":9.70},
{"g":3,"d":"2015-06-07","v":9.86},{"g":3,"d":"2015-06-18","v":9.94},{"g":3,"d":"2015-06-27","v":5.76},{"g":3,"d":"2015-07-04","v":5.92},
{"g":3,"d":"2015-07-10","v":9.46},{"g":3,"d":"2015-07-27","v":9.70},{"g":3,"d":"2015-08-10","v":9.54},{"g":3,"d":"2015-08-15","v":6.00},
{"g":3,"d":"2015-08-23","v":6.81},{"g":3,"d":"2015-08-28","v":6.08},{"g":3,"d":"2015-09-02","v":6.73},{"g":3,"d":"2015-09-08","v":12.51},
{"g":3,"d":"2015-09-11","v":5.92},{"g":3,"d":"2015-09-24","v":5.92},{"g":3,"d":"2015-10-16","v":5.76},{"g":3,"d":"2015-10-27","v":6.08},
{"g":3,"d":"2015-11-01","v":5.76},{"g":3,"d":"2015-11-28","v":6.00},{"g":3,"d":"2015-12-04","v":5.76},{"g":3,"d":"2016-01-17","v":6.32},
{"g":3,"d":"2016-01-22","v":5.76},{"g":3,"d":"2016-02-24","v":5.80},{"g":3,"d":"2016-03-27","v":5.72},{"g":3,"d":"2016-04-07","v":5.92},
{"g":3,"d":"2016-04-13","v":9.78},{"g":3,"d":"2016-04-29","v":10.02},{"g":3,"d":"2016-05-15","v":10.10},{"g":3,"d":"2016-05-26","v":9.86},
{"g":3,"d":"2016-06-06","v":10.02},{"g":3,"d":"2016-06-21","v":9.94},{"g":3,"d":"2016-06-30","v":6.08},{"g":3,"d":"2016-07-11","v":9.78},
{"g":3,"d":"2016-07-29","v":9.82},{"g":3,"d":"2016-08-09","v":10.10},{"g":3,"d":"2016-08-15","v":6.89},{"g":3,"d":"2016-08-20","v":9.30},
{"g":3,"d":"2016-08-25","v":6.81},{"g":3,"d":"2016-08-31","v":7.13},{"g":3,"d":"2016-09-05","v":6.73},{"g":3,"d":"2016-09-11","v":7.05},
{"g":3,"d":"2016-09-16","v":6.73},{"g":3,"d":"2016-09-22","v":6.81},{"g":3,"d":"2016-09-27","v":5.92},{"g":3,"d":"2016-10-08","v":5.76},
{"g":3,"d":"2016-10-30","v":5.68},{"g":3,"d":"2016-12-02","v":5.64},{"g":3,"d":"2016-12-29","v":5.68},{"g":3,"d":"2017-01-15","v":5.76},
{"g":3,"d":"2017-01-26","v":5.60},{"g":3,"d":"2017-02-06","v":5.92},{"g":3,"d":"2017-02-17","v":5.44},{"g":3,"d":"2017-02-28","v":5.84},
{"g":3,"d":"2017-03-09","v":5.52},{"g":3,"d":"2017-03-16","v":6.08},{"g":3,"d":"2017-03-20","v":5.70}
],
"red": [
{"d":"2015-03-05","v":13.00},{"d":"2015-03-10","v":13.63},{"d":"2015-03-16","v":13.95},{"d":"2015-03-21","v":12.91},{"d":"2015-03-26","v":12.59},
{"d":"2015-04-01","v":13.31},{"d":"2015-04-06","v":14.76},{"d":"2015-04-12","v":14.35},{"d":"2015-04-17","v":13.31},{"d":"2015-04-22","v":12.99},
{"d":"2015-04-28","v":12.67},{"d":"2015-05-03","v":12.35},{"d":"2015-05-14","v":12.03},{"d":"2015-05-25","v":11.86},{"d":"2015-06-05","v":11.70},
{"d":"2015-06-16","v":11.54},{"d":"2015-06-24","v":11.86},{"d":"2015-07-01","v":11.70},{"d":"2015-07-12","v":11.62},{"d":"2015-07-23","v":11.54},
{"d":"2015-08-03","v":11.46},{"d":"2015-08-10","v":11.62},{"d":"2015-08-17","v":12.83},{"d":"2015-08-21","v":13.55},{"d":"2015-08-27","v":14.59},
{"d":"2015-09-01","v":13.79},{"d":"2015-09-08","v":15.56},{"d":"2015-09-12","v":15.96},{"d":"2015-09-19","v":14.76},{"d":"2015-09-26","v":13.95},
{"d":"2015-10-03","v":13.39},{"d":"2015-10-12","v":12.99},{"d":"2015-10-23","v":12.51},{"d":"2015-11-01","v":12.19},{"d":"2015-11-08","v":12.03},
{"d":"2015-11-14","v":12.51},{"d":"2015-11-22","v":13.79},{"d":"2015-11-27","v":14.59},{"d":"2015-12-03","v":14.35},{"d":"2015-12-07","v":15.00},
{"d":"2015-12-14","v":13.55},{"d":"2015-12-21","v":13.15},{"d":"2015-12-27","v":12.83},{"d":"2016-01-03","v":12.35},{"d":"2016-01-10","v":11.86},
{"d":"2016-01-15","v":13.71},{"d":"2016-01-21","v":13.31},{"d":"2016-01-30","v":12.67},{"d":"2016-02-10","v":12.35},{"d":"2016-02-21","v":11.70},
{"d":"2016-02-26","v":11.95},{"d":"2016-03-05","v":11.86},{"d":"2016-03-14","v":11.70},{"d":"2016-03-25","v":11.54},{"d":"2016-03-31","v":11.46},
{"d":"2016-04-04","v":12.99},{"d":"2016-04-10","v":13.55},{"d":"2016-04-13","v":14.51},{"d":"2016-04-17","v":13.95},{"d":"2016-04-26","v":12.99},
{"d":"2016-05-05","v":12.43},{"d":"2016-05-13","v":12.83},{"d":"2016-05-20","v":12.67},{"d":"2016-05-29","v":12.51},{"d":"2016-06-06","v":12.19},
{"d":"2016-06-11","v":12.99},{"d":"2016-06-17","v":14.43},{"d":"2016-06-22","v":13.79},{"d":"2016-07-01","v":13.31},{"d":"2016-07-12","v":12.83},
{"d":"2016-07-23","v":12.67},{"d":"2016-08-03","v":12.35},{"d":"2016-08-12","v":12.27},{"d":"2016-08-16","v":13.95},{"d":"2016-08-23","v":14.76},
{"d":"2016-08-30","v":13.71},{"d":"2016-09-07","v":14.11},{"d":"2016-09-14","v":14.51},{"d":"2016-09-18","v":15.16},{"d":"2016-09-22","v":15.40},
{"d":"2016-09-27","v":14.76},{"d":"2016-10-03","v":13.95},{"d":"2016-10-08","v":13.47},{"d":"2016-10-17","v":12.99},{"d":"2016-10-25","v":12.75},
{"d":"2016-11-01","v":12.67},{"d":"2016-11-10","v":12.51},{"d":"2016-11-19","v":12.35},{"d":"2016-11-27","v":12.27},{"d":"2016-12-02","v":12.03},
{"d":"2016-12-11","v":11.95},{"d":"2016-12-18","v":12.19},{"d":"2016-12-26","v":12.27},{"d":"2017-01-04","v":12.19},{"d":"2017-01-13","v":12.11},
{"d":"2017-01-20","v":12.59},{"d":"2017-01-28","v":12.51},{"d":"2017-02-06","v":12.35},{"d":"2017-02-17","v":12.03},{"d":"2017-02-28","v":11.86},
{"d":"2017-03-11","v":11.70},{"d":"2017-03-16","v":11.62},{"d":"2017-03-20","v":11.66}
],
"gate": [
{"d":"2010-04-21","v":2},{"d":"2010-04-26","v":0.5},{"d":"2010-05-01","v":2},{"d":"2010-05-23","v":0.5},{"d":"2010-05-28","v":2},
{"d":"2010-06-18","v":0.5},{"d":"2010-06-20","v":2},{"d":"2010-07-02","v":0.5},{"d":"2010-07-04","v":2},{"d":"2010-07-15","v":0.5},
{"d":"2010-07-20","v":2},{"d":"2010-08-29","v":0.5},{"d":"2011-04-23","v":2},{"d":"2011-05-27","v":0.5},{"d":"2011-06-02","v":2},
{"d":"2011-06-25","v":0.5},{"d":"2011-06-28","v":2},{"d":"2011-07-04","v":0.5},{"d":"2011-07-10","v":2},{"d":"2011-07-28","v":0.5},
{"d":"2011-07-31","v":2},{"d":"2011-08-01","v":0.5},{"d":"2011-08-03","v":2},{"d":"2011-08-26","v":0.5},{"d":"2012-04-22","v":2},
{"d":"2012-04-29","v":0.5},{"d":"2012-05-06","v":2},{"d":"2012-06-20","v":0.5},{"d":"2012-06-30","v":2},{"d":"2012-07-14","v":0.5},
{"d":"2012-07-17","v":2},{"d":"2012-08-28","v":0.5},{"d":"2013-04-03","v":2},{"d":"2013-06-16","v":0.5},{"d":"2013-06-18","v":2},
{"d":"2013-06-19","v":0.5},{"d":"2013-06-21","v":2},{"d":"2013-07-06","v":0.5},{"d":"2013-08-07","v":2},{"d":"2013-08-22","v":0.5},
{"d":"2014-04-21","v":2},{"d":"2014-05-18","v":0.5},{"d":"2014-05-23","v":2},{"d":"2014-06-05","v":0.5},{"d":"2014-06-12","v":2},
{"d":"2014-06-14","v":0.5},{"d":"2014-06-18","v":2},{"d":"2014-06-25","v":0.5},{"d":"2015-04-19","v":2},{"d":"2015-06-25","v":0.5},
{"d":"2015-07-12","v":2},{"d":"2015-08-08","v":0.5},{"d":"2016-04-11","v":2},{"d":"2016-06-25","v":0.5},{"d":"2016-07-03","v":2},
{"d":"2016-08-09","v":0.5},{"d":"2017-03-20","v":0.5}
],
"labelbg": [
{"d":"2008-04-08","d2":"2008-08-22","v":16.53,"v2":16.95},
{"d":"2008-02-25","d2":"2008-10-11","v":13.65,"v2":14.23},
{"d":"2008-03-12","d2":"2008-09-17","v":12.88,"v2":13.43},
{"d":"2008-02-20","d2":"2008-09-04","v":11.09,"v2":11.70},
{"d":"2014-10-11","d2":"2015-03-22","v":15.92,"v2":16.50},
{"d":"2014-08-30","d2":"2015-04-04","v":11.53,"v2":12.15},
{"d":"2014-09-09","d2":"2015-02-18","v":7.13,"v2":7.73},
{"d":"2011-05-29","d2":"2013-02-09","v":19.14,"v2":20.30},
{"d":"2011-06-09","d2":"2012-10-12","v":17.08,"v2":17.62},
{"d":"2008-05-31","d2":"2009-01-02","v":19.04,"v2":19.43},
{"d":"2008-03-07","d2":"2009-04-02","v":18.24,"v2":18.68}
],
"labels": [
{"s":"No.3","d":"2008-06-13","v":16.82},
{"s":"H16-10","d":"2008-06-19","v":13.94},
{"s":"H16-5","d":"2008-06-13","v":13.17},
{"s":"Loc.1a","d":"2008-05-29","v":11.41},
{"s":"Loc.3","d":"2014-12-30","v":16.24},
{"s":"H26-3a","d":"2014-12-17","v":11.84},
{"s":"Loc.4","d":"2014-11-28","v":7.44}
],
"notes": [
{"t":"対策工事","d":"2008-09-17","v":19.21},
{"t":"H20.3.1～H21.3.19","d":"2008-09-18","v":18.46},
{"t":"H23.3.11 東日本大震災発生","d":"2012-04-12","v":20.08},
{"t":"震度:5強","d":"2012-02-27","v":19.43},
{"t":"H23.4.7 余震:震度5弱","d":"2012-02-12","v":17.35}
],
"leaders": [
{"g":1,"d":"2011-03-11","v":18},{"g":1,"d":"2011-05-02","v":19.77},{"g":1,"d":"2011-05-29","v":19.77},
{"g":2,"d":"2011-04-07","v":18},{"g":2,"d":"2011-05-08","v":17.37},{"g":2,"d":"2011-05-29","v":17.37}
],
"quakes": [{"d":"2011-03-11","v":18},{"d":"2011-04-07","v":18}],
"arrow": [{"d":"2008-03-12","d2":"2009-03-28","v":18}],
"gatebox": [
{"d":"2009-07-12","d2":"2010-04-06","v":1.69,"v2":2.59},
{"d":"2009-07-12","d2":"2010-04-06","v":0.24,"v2":1.11}
],
"gatetext": [
{"t":"岩淵堰閉","d":"2009-11-23","v":2.14},
{"t":"岩淵堰開","d":"2009-11-23","v":0.68}
],
"titlebox": [{"d":"2008-10-08","d2":"2016-07-03","v":25.08,"v2":26.41}],
"titletext": [{"d":"2012-08-20","v":25.75,"t":"北側測線(旧工区)の地下水・浸透水の水位図(H20.1.1～H29.3.31)"}]
},
"encoding": {
"x": {"field": "d", "type": "temporal",
  "scale": {"type": "utc", "domain": [{"year": 2008, "month": 1, "date": 1, "utc": true}, {"year": 2017, "month": 3, "date": 20, "utc": true}], "nice": false},
  "axis": {"orient": "bottom",
      "values": [
        {"year":2008,"month":1,"date":1,"utc":true},{"year":2008,"month":4,"date":1,"utc":true},{"year":2008,"month":7,"date":1,"utc":true},{"year":2008,"month":10,"date":1,"utc":true},
        {"year":2009,"month":1,"date":1,"utc":true},{"year":2009,"month":4,"date":1,"utc":true},{"year":2009,"month":7,"date":1,"utc":true},{"year":2009,"month":10,"date":1,"utc":true},
        {"year":2010,"month":1,"date":1,"utc":true},{"year":2010,"month":4,"date":1,"utc":true},{"year":2010,"month":7,"date":1,"utc":true},{"year":2010,"month":10,"date":1,"utc":true},
        {"year":2011,"month":1,"date":1,"utc":true},{"year":2011,"month":4,"date":1,"utc":true},{"year":2011,"month":7,"date":1,"utc":true},{"year":2011,"month":10,"date":1,"utc":true},
        {"year":2012,"month":1,"date":1,"utc":true},{"year":2012,"month":4,"date":1,"utc":true},{"year":2012,"month":7,"date":1,"utc":true},{"year":2012,"month":10,"date":1,"utc":true},
        {"year":2013,"month":1,"date":1,"utc":true},{"year":2013,"month":4,"date":1,"utc":true},{"year":2013,"month":7,"date":1,"utc":true},{"year":2013,"month":10,"date":1,"utc":true},
        {"year":2014,"month":1,"date":1,"utc":true},{"year":2014,"month":4,"date":1,"utc":true},{"year":2014,"month":7,"date":1,"utc":true},{"year":2014,"month":10,"date":1,"utc":true},
        {"year":2015,"month":1,"date":1,"utc":true},{"year":2015,"month":4,"date":1,"utc":true},{"year":2015,"month":7,"date":1,"utc":true},{"year":2015,"month":10,"date":1,"utc":true},
        {"year":2016,"month":1,"date":1,"utc":true},{"year":2016,"month":4,"date":1,"utc":true},{"year":2016,"month":7,"date":1,"utc":true},{"year":2016,"month":10,"date":1,"utc":true},
        {"year":2017,"month":1,"date":1,"utc":true}],
      "grid": true, "gridColor": "#000000", "gridDash": [4, 2.5], "gridWidth": 1.1,
      "labels": false, "ticks": false, "domain": true, "domainColor": "#000000", "domainWidth": 2,
      "title": "年月日", "titleFontSize": 21, "titleFontWeight": "normal", "titleColor": "#000000", "titlePadding": 15}},
"y": {"field": "v", "type": "quantitative", "axis": null,
  "scale": {"domain": [0, 26], "nice": false, "zero": false}}
},
"layer": [
{"data": {"name": "labelbg"}, "mark": {"type": "rect", "fill": "white", "stroke": null},
 "encoding": {
  "y": {"field": "v", "type": "quantitative",
    "axis": {"orient": "left", "values": [1,3,5,7,9,11,13,15,17,19,21,23,25],
      "grid": true, "gridColor": "#000000", "gridDash": [5, 2.5], "gridWidth": 1.2,
      "labels": false, "ticks": false, "domain": true, "domainColor": "#000000", "domainWidth": 2,
      "title": "水位標高(EL.m)", "titleFontSize": 21, "titleFontWeight": "normal", "titleColor": "#000000", "titlePadding": 22}},
  "x2": {"field": "d2"}, "y2": {"field": "v2"}}},
{"data": {"name": "titlebox"}, "mark": {"type": "rect", "fill": "white", "stroke": "#000000", "strokeWidth": 2},
 "encoding": {
  "y": {"field": "v", "type": "quantitative",
    "axis": {"orient": "right", "values": [0,2,4,6,8,10,12,14,16,18,20,22,24,26],
      "grid": true, "gridColor": "#000000", "gridWidth": 1.3,
      "labels": false, "ticks": false, "domain": false, "title": null}},
  "x2": {"field": "d2"}, "y2": {"field": "v2"}}},
{"data": {"name": "gatebox"}, "mark": {"type": "rect", "fill": "white", "stroke": "#FF2A2A", "strokeWidth": 2},
 "encoding": {"x2": {"field": "d2"}, "y2": {"field": "v2"}}},
{"data": {"name": "wide"}, "mark": {"type": "line", "color": "#FF7C9C", "strokeWidth": 1.7, "invalid": "break-paths-show-domains"},
 "encoding": {"y": {"field": "L3", "type": "quantitative", "axis": null}}},
{"data": {"name": "wide"}, "mark": {"type": "line", "color": "#0000FF", "strokeWidth": 2.4, "invalid": "break-paths-show-domains"},
 "encoding": {"y": {"field": "N3", "type": "quantitative", "axis": null}}},
{"data": {"name": "wide"}, "mark": {"type": "line", "color": "#00EE00", "strokeWidth": 2.2, "invalid": "break-paths-show-domains"},
 "encoding": {"y": {"field": "H10", "type": "quantitative", "axis": null}}},
{"data": {"name": "wide"}, "mark": {"type": "line", "color": "#00C8F8", "strokeWidth": 1.8, "invalid": "break-paths-show-domains"},
 "encoding": {"y": {"field": "H5", "type": "quantitative", "axis": null}}},
{"data": {"name": "purple"}, "mark": {"type": "line", "color": "#6600CC", "strokeWidth": 1.7}, "encoding": {}},
{"data": {"name": "yellow"}, "mark": {"type": "line", "color": "#FFC000", "strokeWidth": 1.6},
 "encoding": {"detail": {"field": "g", "type": "nominal"}}},
{"data": {"name": "red"}, "mark": {"type": "line", "color": "#CC0000", "strokeWidth": 1.7}, "encoding": {}},
{"data": {"name": "gate"}, "mark": {"type": "line", "color": "#FF0000", "strokeWidth": 2, "interpolate": "step-after"}, "encoding": {}},
{"data": {"name": "leaders"}, "mark": {"type": "line", "color": "#000000", "strokeWidth": 1.2},
 "encoding": {"detail": {"field": "g", "type": "nominal"}}},
{"data": {"name": "quakes"}, "mark": {"type": "point", "filled": true, "color": "#000000", "size": 14, "opacity": 1}, "encoding": {}},
{"data": {"name": "arrow"}, "mark": {"type": "rule", "color": "#000000", "strokeWidth": 4},
 "encoding": {"x2": {"field": "d2"}}},
{"data": {"values": [{"d": "2008-03-12", "v": 18}]}, "mark": {"type": "point", "shape": "triangle-left", "filled": true, "color": "#000000", "size": 300, "opacity": 1}, "encoding": {}},
{"data": {"values": [{"d": "2009-03-28", "v": 18}]}, "mark": {"type": "point", "shape": "triangle-right", "filled": true, "color": "#000000", "size": 300, "opacity": 1}, "encoding": {}},
{"data": {"name": "labels"}, "mark": {"type": "text", "fontSize": 22, "align": "center", "baseline": "middle"},
 "encoding": {"text": {"field": "s"},
   "color": {"field": "s", "type": "nominal", "legend": null,
     "scale": {"domain": ["Loc.3", "No.3", "H16-10", "H16-5", "H26-3a", "Loc.1a", "Loc.4"],
               "range": ["#FF80A0", "#0000FF", "#00EE00", "#00CCFF", "#CC0000", "#6600CC", "#FFC000"]}}}},
{"data": {"name": "notes"}, "mark": {"type": "text", "fontSize": 17.5, "align": "center", "baseline": "middle", "color": "#000000"},
 "encoding": {"text": {"field": "t"}}},
{"data": {"name": "gatetext"}, "mark": {"type": "text", "fontSize": 23, "align": "center", "baseline": "middle", "color": "#000000"},
 "encoding": {"text": {"field": "t"}}},
{"data": {"name": "titletext"}, "mark": {"type": "text", "fontSize": 36, "align": "center", "baseline": "middle", "color": "#000000"},
 "encoding": {"text": {"field": "t"}}}
]
}
